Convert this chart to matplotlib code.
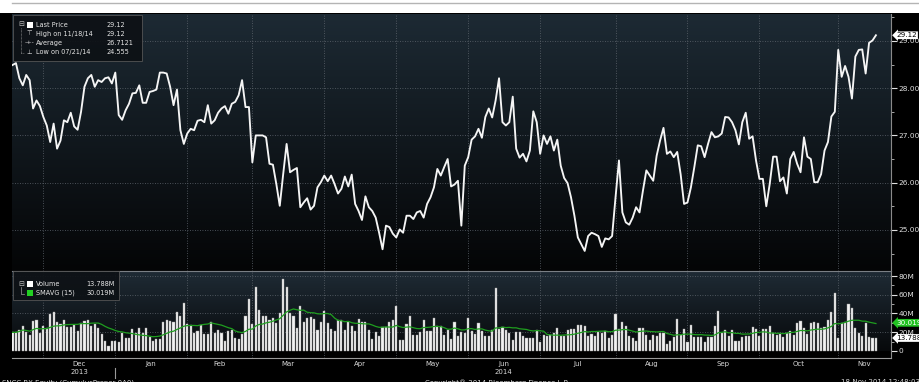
import matplotlib.pyplot as plt
import matplotlib.patches as mpatches
import matplotlib.lines as mlines
import matplotlib.transforms as mtransforms
from matplotlib.colors import LinearSegmentedColormap
import numpy as np
import pandas as pd

W, H = 919, 382

start_date = "2013-11-18"
end_date = "2014-11-18"
holidays = ["2013-11-28", "2013-12-25", "2014-01-01", "2014-01-20", "2014-02-17",
            "2014-04-18", "2014-05-26", "2014-07-04", "2014-09-01"]

# daily last price, one value per trading day
price = [
    28.49, 28.53, 28.21, 28.06, 28.28, 28.17, 27.57, 27.74, 27.62, 27.39,
    27.21, 26.86, 27.25, 26.72, 26.89, 27.32, 27.28, 27.48, 27.19, 27.12,
    27.50, 28.03, 28.21, 28.28, 28.03, 28.17, 28.13, 28.21, 28.23, 28.10,
    28.33, 27.43, 27.33, 27.53, 27.67, 27.89, 27.90, 28.06, 27.69, 27.69,
    27.92, 27.94, 27.97, 28.33, 28.33, 28.31, 28.03, 27.64, 27.97, 27.11,
    26.82, 27.04, 27.14, 27.11, 27.31, 27.33, 27.28, 27.64, 27.25, 27.32,
    27.48, 27.57, 27.62, 27.46, 27.67, 27.71, 27.85, 28.17, 27.60, 27.60,
    26.43, 27.00, 27.00, 27.00, 26.96, 26.40, 26.38, 25.97, 25.51, 26.18,
    26.82, 26.22, 26.27, 26.31, 25.48, 25.58, 25.67, 25.43, 25.51, 25.90,
    26.01, 26.15, 26.03, 26.15, 25.97, 25.77, 25.87, 26.13, 25.92, 26.17,
    25.55, 25.40, 25.21, 25.71, 25.48, 25.40, 25.26, 24.94, 24.59, 25.09,
    25.06, 24.92, 24.84, 25.01, 24.94, 25.30, 25.30, 25.23, 25.37, 25.40,
    25.26, 25.55, 25.69, 25.90, 26.29, 26.15, 26.33, 26.50, 25.92, 25.96,
    26.04, 25.09, 26.36, 26.54, 26.91, 26.98, 27.14, 26.95, 27.39, 27.57,
    27.38, 27.74, 28.21, 27.28, 27.21, 27.28, 27.82, 26.72, 26.53, 26.61,
    26.45, 26.68, 27.51, 27.28, 26.61, 27.00, 26.82, 26.98, 26.68, 26.91,
    26.36, 26.10, 25.99, 25.69, 25.30, 24.84, 24.70, 24.555, 24.87, 24.94,
    24.91, 24.87, 24.64, 24.82, 24.80, 24.87, 25.69, 26.47, 25.37, 25.16,
    25.11, 25.26, 25.48, 25.37, 25.83, 26.26, 26.15, 26.04, 26.57, 26.89,
    27.16, 26.61, 26.66, 26.54, 26.65, 26.18, 25.55, 25.58, 25.90, 26.33,
    26.79, 26.77, 26.54, 26.82, 27.07, 26.96, 26.98, 27.04, 27.39, 27.38,
    27.28, 27.11, 26.81, 27.28, 27.48, 26.93, 26.98, 26.47, 26.08, 26.08,
    25.50, 25.97, 26.55, 26.55, 26.03, 26.11, 25.77, 26.50, 26.65, 26.40,
    26.22, 26.96, 26.55, 26.50, 26.01, 26.01, 26.18, 26.68, 26.86, 27.40,
    27.50, 28.81, 28.24, 28.47, 28.24, 27.78, 28.67, 28.81, 28.82, 28.31,
    28.96, 29.01, 29.12,
]

# daily volume in millions
volume = [
    19.8, 19.8, 22.7, 27.0, 19.8, 17.3, 32.4, 33.5, 19.1, 26.3,
    24.5, 39.6, 41.8, 31.0, 28.8, 32.8, 25.2, 25.2, 27.4, 20.9,
    29.9, 31.7, 32.8, 26.3, 28.8, 24.5, 18.4, 10.1, 5.4, 10.1,
    10.1, 9.4, 19.1, 13.7, 13.7, 23.4, 19.1, 24.5, 19.1, 24.5,
    14.8, 10.1, 13.0, 13.0, 30.6, 33.5, 32.4, 30.6, 41.8, 37.1,
    51.5, 28.8, 27.4, 19.1, 20.9, 27.4, 18.4, 18.4, 30.6, 19.1,
    22.7, 19.1, 10.1, 20.9, 22.7, 13.7, 12.6, 18.0, 37.8, 55.9,
    28.8, 68.8, 43.2, 37.1, 37.8, 33.5, 35.3, 29.9, 40.7, 76.8,
    68.8, 40.0, 37.8, 24.5, 47.9, 31.3, 35.3, 36.4, 34.2, 22.7,
    30.6, 42.5, 29.9, 23.4, 20.9, 32.8, 32.8, 22.7, 30.6, 26.3,
    21.6, 34.2, 31.0, 30.6, 22.7, 13.0, 19.8, 15.5, 25.2, 25.2,
    31.0, 33.5, 47.9, 11.2, 11.9, 28.8, 37.8, 17.3, 17.3, 19.8,
    32.8, 20.9, 20.9, 34.9, 27.0, 26.3, 17.3, 22.7, 12.6, 30.6,
    15.5, 19.8, 19.1, 35.3, 21.6, 18.4, 29.9, 21.6, 15.5, 15.5,
    22.0, 67.7, 23.4, 25.6, 22.7, 19.1, 11.9, 19.8, 19.8, 15.5,
    13.7, 13.7, 13.7, 22.7, 9.7, 17.3, 15.5, 17.3, 19.1, 24.5,
    16.2, 16.2, 22.0, 23.4, 23.4, 28.1, 28.1, 26.3, 15.5, 18.4,
    16.2, 19.8, 19.1, 20.9, 13.7, 17.3, 39.6, 23.4, 30.6, 27.0,
    16.2, 13.7, 10.8, 24.5, 24.5, 17.3, 11.9, 17.3, 16.2, 19.1,
    19.1, 7.2, 10.8, 14.8, 34.6, 17.3, 23.4, 9.7, 27.4, 14.8,
    14.8, 14.8, 9.7, 14.8, 14.8, 26.3, 42.5, 19.1, 22.7, 16.2,
    22.7, 10.1, 10.1, 14.8, 16.2, 16.2, 25.6, 23.4, 16.2, 23.4,
    23.4, 26.3, 19.1, 17.3, 18.4, 14.8, 19.1, 20.9, 17.3, 29.9,
    31.7, 24.5, 18.4, 29.9, 31.0, 29.9, 24.1, 25.6, 33.5, 41.8,
    61.6, 13.7, 29.9, 31.0, 49.7, 46.1, 24.5, 19.1, 15.5, 29.9,
    14.8, 13.7, 13.788,
]

month_labels = ["Dec", "Jan", "Feb", "Mar", "Apr", "May", "Jun",
                "Jul", "Aug", "Sep", "Oct", "Nov"]
year_labels = ["2013", "2014"]
price_ticks = [25, 26, 27, 28, 29]
volume_ticks = [0, 20, 40, 60, 80]
volume_tick_labels = ["0", "20M", "40M", "60M", "80M"]

legend_labels = ["Last Price", "High on 11/18/14", "Average", "Low on 07/21/14"]
legend_values = ["29.12", "29.12", "26.7121", "24.555"]
vol_legend_labels = ["Volume", "SMAVG (15)"]
vol_legend_values = ["13.788M", "30.019M"]
last_price = 29.12
last_volume = 13.788
last_smavg = 30.019

TXT = "#d8d8d8"
GRID = "#5f666e"
GREEN = "#1f9e1f"
FONT = "DejaVu Sans"


def px_box(x0, y0, x1, y1):
    return [x0 / W, 1 - y1 / H, (x1 - x0) / W, (y1 - y0) / H]


def fx(x):
    return x / W


def fy(y):
    return 1 - y / H


def gradient(ax, top, bottom, extent, transform):
    cmap = LinearSegmentedColormap.from_list("bg", [top, bottom])
    grad = np.linspace(0, 1, 256).reshape(-1, 1)
    ax.imshow(grad, extent=extent, transform=transform, cmap=cmap,
              aspect="auto", zorder=0, interpolation="bilinear")


def style_right_axis(ax):
    for side in ["left", "top", "bottom"]:
        ax.spines[side].set_visible(False)
    ax.spines["right"].set_color("#8a8a8a")
    ax.yaxis.tick_right()
    ax.tick_params(axis="y", which="major", colors="#e0e0e0", length=4, width=0.8,
                   labelsize=5.3, pad=1.5)
    ax.tick_params(axis="y", which="minor", colors="#c0c0c0", length=2, width=0.6)
    ax.tick_params(axis="x", which="both", length=0, labelbottom=False)
    for lab in ax.get_yticklabels():
        lab.set_fontfamily(FONT)


def main():
    dates = pd.bdate_range(start_date, end_date)
    dates = dates[~dates.isin(pd.to_datetime(holidays))]
    x = np.arange(len(price))
    xmin, xmax = -0.15, len(price) - 1 + 4.4

    per = dates.to_period("M")
    starts = [i for i in range(1, len(per)) if per[i] != per[i - 1]]
    bounds = starts + [xmax]
    centers = [(bounds[k] + bounds[k + 1]) / 2 for k in range(len(starts))]

    fig = plt.figure(figsize=(W / 100, H / 100), dpi=100, facecolor="black")

    # white strip at the top with a thin rule
    fig.patches.append(mpatches.Rectangle((0, fy(13)), 1, 13 / H, transform=fig.transFigure,
                                          fc="white", ec="none", zorder=0))
    fig.lines.append(mlines.Line2D([fx(12), 1], [fy(3), fy(3)], transform=fig.transFigure,
                                   color="#b4b4b4", lw=1))

    ax_p = fig.add_axes(px_box(12, 14, 891, 271))
    ax_v = fig.add_axes(px_box(12, 271, 891, 358))
    for ax in (ax_p, ax_v):
        ax.set_facecolor("black")

    # price panel
    gradient(ax_p, "#1d2a34", "#040506", [0, 1, 0, 1], ax_p.transAxes)
    ax_p.plot(x, price, color="#f5f5f5", lw=1.35, zorder=3, solid_joinstyle="round")
    ax_p.set_xlim(xmin, xmax)
    ax_p.set_ylim(24.13, 29.57)
    ax_p.set_yticks(price_ticks, [f"{t:.2f}" for t in price_ticks])
    ax_p.set_yticks([t + 0.5 for t in [24] + price_ticks], minor=True)
    for t in price_ticks:
        ax_p.axhline(t, color=GRID, lw=0.6, ls=(0, (1, 2)), zorder=1)
    for k, s in enumerate(starts):
        if month_labels[k] != "Jan":
            ax_p.axvline(s, color=GRID, lw=0.6, ls=(0, (1, 2)), zorder=1)
    style_right_axis(ax_p)

    # volume panel
    vmin, vmax = -7.6, 85.4
    gradient(ax_v, "#1f2b35", "#07090b", [xmin, xmax, 0, vmax], ax_v.transData)
    ax_v.bar(x, volume, width=0.62, color="#f2f2f2", edgecolor="#9a9a9a", lw=0.3, zorder=2)
    sma = pd.Series(volume).rolling(15, min_periods=1).mean()
    ax_v.plot(x, sma, color=GREEN, lw=0.9, zorder=3)
    ax_v.set_xlim(xmin, xmax)
    ax_v.set_ylim(vmin, vmax)
    ax_v.set_yticks(volume_ticks, volume_tick_labels)
    ax_v.set_yticks([10, 30, 50, 70], minor=True)
    for t in volume_ticks[1:]:
        ax_v.axhline(t, color=GRID, lw=0.6, ls=(0, (1, 2)), zorder=1)
    for s in starts:
        ax_v.axvline(s, color=GRID, lw=0.6, ls=(0, (1, 2)), zorder=1)
    style_right_axis(ax_v)
    ax_v.spines["top"].set_visible(True)
    ax_v.spines["top"].set_color("#7a7f85")
    ax_v.spines["bottom"].set_visible(True)
    ax_v.spines["bottom"].set_color("#9a9a9a")

    # value tags on the right axis
    tp = mtransforms.blended_transform_factory(ax_p.transAxes, ax_p.transData)
    ax_p.text(1.006, last_price, f"{last_price:.2f}", transform=tp, ha="left", va="center",
              fontsize=5.2, color="black", family=FONT, zorder=6,
              bbox=dict(boxstyle="larrow,pad=0.12", fc="white", ec="none"))
    tv = mtransforms.blended_transform_factory(ax_v.transAxes, ax_v.transData)
    ax_v.text(1.006, last_smavg, f"{last_smavg:.3f}", transform=tv, ha="left", va="center",
              fontsize=5.2, color="white", family=FONT, zorder=6,
              bbox=dict(boxstyle="larrow,pad=0.12", fc="#22c322", ec="none"))
    ax_v.text(1.006, last_volume, f"{last_volume:.3f}", transform=tv, ha="left", va="center",
              fontsize=5.2, color="black", family=FONT, zorder=6,
              bbox=dict(boxstyle="larrow,pad=0.12", fc="white", ec="none"))

    # month and year labels under the chart
    tm = mtransforms.blended_transform_factory(ax_v.transData, fig.transFigure)
    for k, lab in enumerate(month_labels):
        fig.text(0, fy(364), lab, transform=tm, ha="center", va="center", fontsize=5,
                 color=TXT, family=FONT)
        fig.texts[-1].set_x(centers[k])
    year_x = [centers[0], (starts[1] + xmax) / 2]
    for xx, lab in zip(year_x, year_labels):
        t = fig.text(0, fy(372.5), lab, transform=tm, ha="center", va="center", fontsize=5,
                     color=TXT, family=FONT)
        t.set_x(xx)
    fig.lines.append(mlines.Line2D([starts[1], starts[1]], [fy(368), fy(378)], transform=tm,
                                   color="#9a9a9a", lw=0.8))

    # footer, cut by the bottom edge
    fig.text(fx(2), fy(382.5), "SNCC BX Equity (CumulusPreper 0A0)", ha="left", va="center",
             fontsize=5, color=TXT, family=FONT)
    fig.text(fx(497), fy(382.5), "Copyright\u00ae 2014 Bloomberg Finance L.P.", ha="center",
             va="center", fontsize=5, color=TXT, family=FONT)
    fig.text(fx(841), fy(382.5), "18-Nov-2014 12:48:03", ha="left", va="center",
             fontsize=5, color=TXT, family=FONT)

    # price legend box
    fig.patches.append(mpatches.Rectangle((fx(13), fy(61)), (142 - 13) / W, 46 / H,
                                          transform=fig.transFigure, fc="#0d1115", ec="#5a5a5a",
                                          lw=0.6, alpha=0.92, zorder=5))
    rows = [25, 34, 43, 52]
    fig.text(fx(21), fy(24.5), "\u229f", ha="center", va="center", fontsize=5,
             color="#bdbdbd", family=FONT, zorder=6)
    fig.lines.append(mlines.Line2D([fx(21), fx(21), fx(24)], [fy(28), fy(53), fy(53)],
                                   transform=fig.transFigure, color="#9a9a9a", lw=0.5,
                                   ls=(0, (1, 1)), zorder=6))
    fig.patches.append(mpatches.Rectangle((fx(26.5), fy(28)), 6 / W, 6 / H,
                                          transform=fig.transFigure, fc="white", ec="none",
                                          zorder=6))
    markers = ["", "\u22a4", "-+-", "\u22a5"]
    for r, m, lab, val in zip(rows, markers, legend_labels, legend_values):
        if m:
            fig.text(fx(29.5), fy(r), m, ha="center", va="center", fontsize=4.6,
                     color="#e0e0e0", family=FONT, zorder=6)
        fig.text(fx(36), fy(r), lab, ha="left", va="center", fontsize=4.7, color="#e6e6e6",
                 family=FONT, zorder=6)
        fig.text(fx(106), fy(r), val, ha="left", va="center", fontsize=4.7, color="#e6e6e6",
                 family=FONT, zorder=6)

    # volume legend box
    fig.patches.append(mpatches.Rectangle((fx(13), fy(300)), (119 - 13) / W, 29 / H,
                                          transform=fig.transFigure, fc="#0d1115", ec="#5a5a5a",
                                          lw=0.6, alpha=0.92, zorder=5))
    fig.text(fx(21), fy(283.5), "\u229f", ha="center", va="center", fontsize=5,
             color="#bdbdbd", family=FONT, zorder=6)
    fig.lines.append(mlines.Line2D([fx(21), fx(21), fx(24)], [fy(287), fy(294), fy(294)],
                                   transform=fig.transFigure, color="#9a9a9a", lw=0.5,
                                   zorder=6))
    for r, col, lab, val in zip([284, 293], ["white", "#22d022"], vol_legend_labels,
                                vol_legend_values):
        fig.patches.append(mpatches.Rectangle((fx(26.5), fy(r + 3)), 6 / W, 6 / H,
                                              transform=fig.transFigure, fc=col, ec="none",
                                              zorder=6))
        fig.text(fx(36), fy(r), lab, ha="left", va="center", fontsize=4.7, color="#e6e6e6",
                 family=FONT, zorder=6)
        fig.text(fx(115), fy(r), val, ha="right", va="center", fontsize=4.7, color="#e6e6e6",
                 family=FONT, zorder=6)

    fig.savefig("out.png", dpi=100, facecolor="black")
    plt.close(fig)


if __name__ == "__main__":
    main()
